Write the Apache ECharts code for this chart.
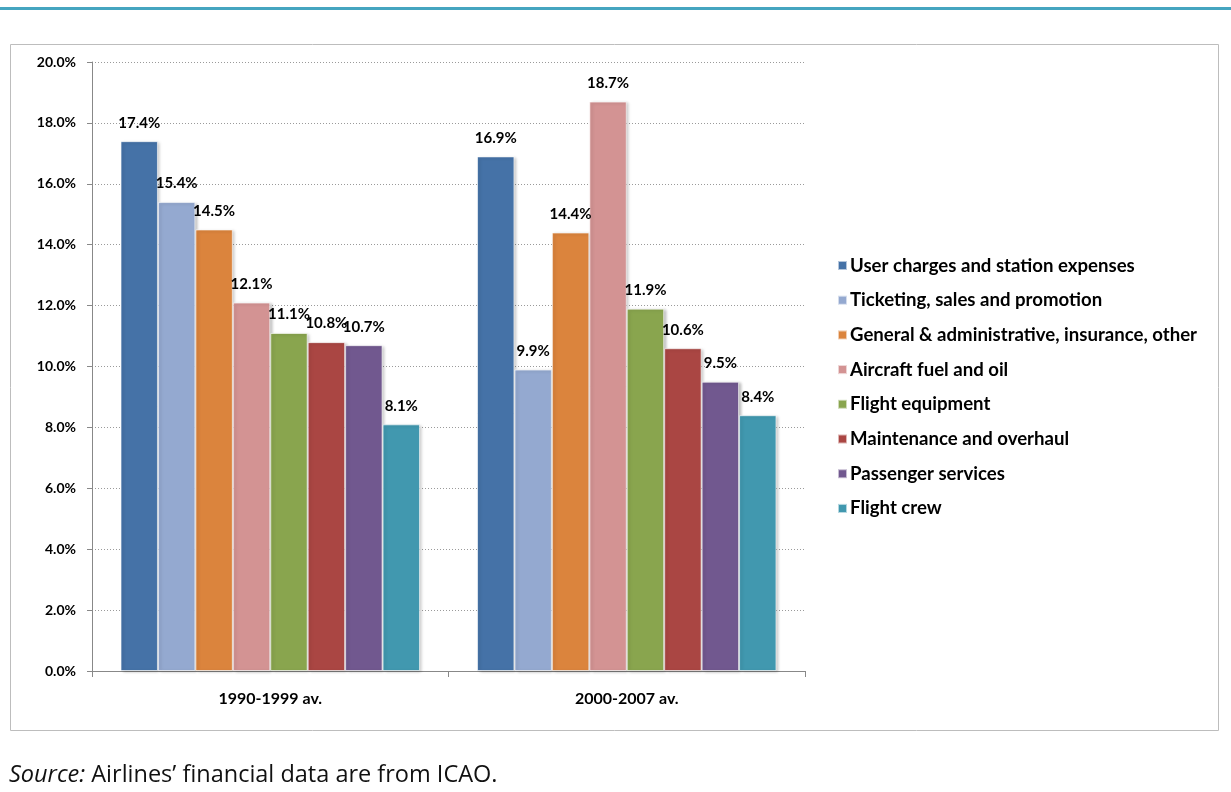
<!DOCTYPE html>
<html>
<head>
<meta charset="utf-8">
<script src="https://cdn.jsdelivr.net/npm/echarts@6/dist/echarts.min.js"></script>
<style>
html,body{margin:0;padding:0;background:#fff;}
#chart{width:1231px;height:792px;}
</style>
</head>
<body>
<div id="chart"></div>
<script>
var categories = ['1990-1999 av.', '2000-2007 av.'];
var seriesNames = [
  'User charges and station expenses',
  'Ticketing, sales and promotion',
  'General & administrative, insurance, other',
  'Aircraft fuel and oil',
  'Flight equipment',
  'Maintenance and overhaul',
  'Passenger services',
  'Flight crew'
];
var values1990s = [17.4, 15.4, 14.5, 12.1, 11.1, 10.8, 10.7, 8.1];
var values2000s = [16.9, 9.9, 14.4, 18.7, 11.9, 10.6, 9.5, 8.4];
var colors = ['#4572A7', '#94A9D0', '#DB843D', '#D39393', '#89A54E', '#AA4643', '#71588F', '#4198AF'];
var yTicks = {min: 0, max: 20, interval: 2};
var sourceLabel = 'Source:';
var sourceText = ' Airlines\u2019 financial data are from ICAO.';

var FONT = 'Lato';
var series = seriesNames.map(function (name, i) {
  return {
    name: name,
    type: 'bar',
    data: [values1990s[i], values2000s[i]],
    barGap: '0%',
    barCategoryGap: '16%',
    itemStyle: {
      color: colors[i],
      borderColor: 'rgba(255,255,255,0.6)',
      borderWidth: 1,
      shadowColor: 'rgba(0,0,0,0.25)',
      shadowBlur: 3,
      shadowOffsetX: 2,
      shadowOffsetY: 1
    },
    label: {
      show: true,
      position: 'top',
      distance: 11,
      color: '#000',
      fontFamily: FONT,
      fontSize: 15,
      fontWeight: 'bold',
      formatter: function (p) { return p.value.toFixed(1) + '%'; }
    },
    emphasis: {disabled: true}
  };
});

var chart = echarts.init(document.getElementById('chart'));
chart.setOption({
  animation: false,
  color: colors,
  grid: {left: 92, right: 426, top: 62, bottom: 121, containLabel: false},
  legend: {
    orient: 'vertical',
    left: 832,
    top: 251,
    itemWidth: 9,
    itemHeight: 9,
    itemGap: 15.7,
    icon: 'rect',
    textStyle: {fontFamily: FONT, fontSize: 18.6, lineHeight: 18, fontWeight: 'bold', color: '#000', padding: [0, 0, 0, -2]},
    data: seriesNames
  },
  xAxis: {
    type: 'category',
    data: categories,
    axisLine: {show: true, lineStyle: {color: '#888', width: 1}},
    axisTick: {show: true, length: 6, lineStyle: {color: '#888'}},
    axisLabel: {fontFamily: FONT, fontSize: 16, fontWeight: 'bold', color: '#000', margin: 20}
  },
  yAxis: {
    type: 'value',
    min: yTicks.min,
    max: yTicks.max,
    interval: yTicks.interval,
    axisLine: {show: true, lineStyle: {color: '#888', width: 1}},
    axisTick: {show: true, length: 5, lineStyle: {color: '#888'}},
    axisLabel: {fontFamily: FONT, fontSize: 14, fontWeight: 'bold', color: '#000', margin: 16,
      formatter: function (v) { return v.toFixed(1) + '%'; }},
    splitLine: {show: true, lineStyle: {color: '#9a9a9a', type: [1, 2], width: 1}}
  },
  graphic: [
    {type: 'rect', left: 0, top: 7, shape: {width: 1231, height: 3}, style: {fill: '#45A5C0'}, silent: true},
    {type: 'rect', shape: {x: 10.5, y: 44.5, width: 1208, height: 686}, style: {fill: 'none', stroke: '#bdbdbd', lineWidth: 1}, silent: true, z: -1},
    {type: 'text', left: 9, top: 763, silent: true,
      style: {
        text: '{i|' + sourceLabel + '}{n|' + sourceText + '}',
        rich: {
          i: {fontFamily: 'Open Sans', fontSize: 23.5, fontStyle: 'italic', fill: '#111'},
          n: {fontFamily: 'Open Sans', fontSize: 23.5, fill: '#111'}
        }
      }
    }
  ],
  series: series
});
</script>
</body>
</html>
